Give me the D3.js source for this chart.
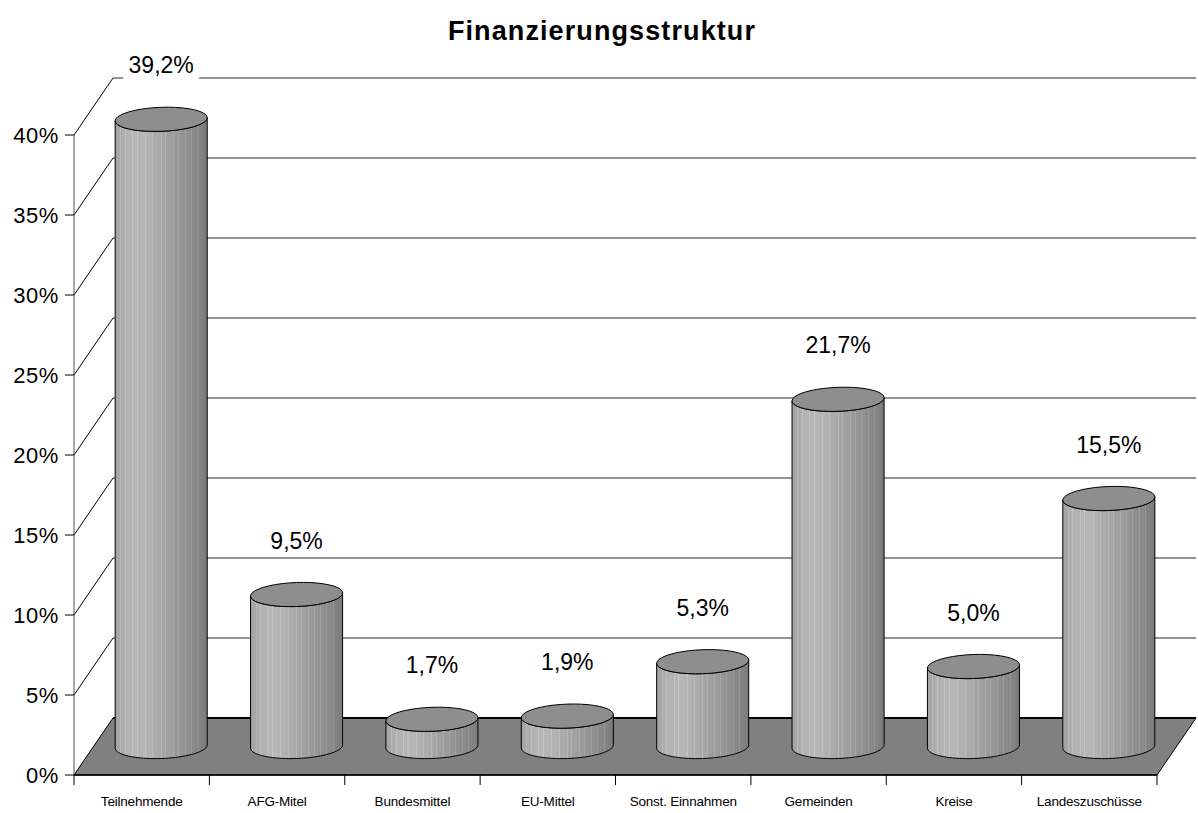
<!DOCTYPE html>
<html>
<head>
<meta charset="utf-8">
<script src="https://cdn.jsdelivr.net/npm/d3@7"></script>
<style>
  body { margin: 0; background: #fff; }
  text { font-family: Arial, "Liberation Sans", sans-serif; fill: #000; }
</style>
</head>
<body>
<div id="chart"></div>
<script>
// chart data
const categories = ['Teilnehmende', 'AFG-Mitel', 'Bundesmittel', 'EU-Mittel', 'Sonst. Einnahmen', 'Gemeinden', 'Kreise', 'Landeszuschüsse'];
const values = [39.2, 9.5, 1.7, 1.9, 5.3, 21.7, 5.0, 15.5];
const yTicks = [0, 5, 10, 15, 20, 25, 30, 35, 40];
const title = 'Finanzierungsstruktur';

const totalWidth = 1198, totalHeight = 813;
const front = {left: 74, right: 1157, bottom: 775, top: 135};
const depth = {dx: 39, dy: -57};

const svg = d3.select('#chart').append('svg')
  .attr('width', totalWidth)
  .attr('height', totalHeight);

const x = d3.scaleBand().domain(categories).range([front.left, front.right]).padding(0);
const y = d3.scaleLinear().domain([0, 40]).range([front.bottom, front.top]);
const fmt = v => v.toFixed(1).replace('.', ',') + '%';

// gradient for the cylinder sides (base shading + thin light stripes)
const defs = svg.append('defs');
const grad = defs.append('linearGradient').attr('id', 'cyl').attr('x1', 0).attr('x2', 1).attr('y1', 0).attr('y2', 0);
const shade = d3.scaleLinear()
  .domain([0, 0.12, 0.28, 0.45, 0.62, 0.8, 0.93, 1])
  .range(['#a2a2a2', '#b2b2b2', '#b8b8b8', '#acacac', '#9e9e9e', '#8e8e8e', '#848484', '#7a7a7a']);
const stripes = [0.06, 0.11, 0.19, 0.24, 0.33, 0.41, 0.5, 0.55, 0.63, 0.69, 0.76, 0.83, 0.9];
let stops = [[0, shade(0)]];
stripes.forEach(s => {
  const c = d3.color(shade(s));
  const light = d3.rgb(c.r + 14, c.g + 14, c.b + 14).formatHex();
  stops.push([s - 0.006, shade(s - 0.006)], [s - 0.005, light], [s + 0.005, light], [s + 0.006, shade(s + 0.006)]);
});
stops.push([1, shade(1)]);
stops.forEach(s => grad.append('stop').attr('offset', s[0]).attr('stop-color', s[1]));

// title
svg.append('text')
  .attr('x', 602).attr('y', 40)
  .attr('text-anchor', 'middle')
  .style('font-size', '27px')
  .style('font-weight', 'bold')
  .style('letter-spacing', '1.1px')
  .text(title);

// back wall gridlines + left wall diagonals
const walls = svg.append('g').attr('class', 'walls');
walls.selectAll('line.grid')
  .data(yTicks.filter(d => d > 0))
  .enter().append('line')
  .attr('class', 'grid')
  .attr('x1', front.left + depth.dx).attr('x2', front.right + depth.dx)
  .attr('y1', d => y(d) + depth.dy).attr('y2', d => y(d) + depth.dy)
  .style('stroke', '#2a2a2a').style('stroke-width', 1.1);
walls.selectAll('line.diag')
  .data(yTicks.filter(d => d > 0))
  .enter().append('line')
  .attr('class', 'diag')
  .attr('x1', front.left).attr('x2', front.left + depth.dx)
  .attr('y1', d => y(d)).attr('y2', d => y(d) + depth.dy)
  .style('stroke', '#000').style('stroke-width', 1);

// floor
const floorPts = [
  [front.left, y(0)],
  [front.left + depth.dx, y(0) + depth.dy],
  [front.right + depth.dx, y(0) + depth.dy],
  [front.right, y(0)]
];
svg.append('polygon')
  .attr('points', floorPts.map(p => p.join(',')).join(' '))
  .style('fill', '#808080')
  .style('stroke', '#000')
  .style('stroke-width', 1);
svg.append('line')
  .attr('x1', front.left + depth.dx).attr('x2', front.right + depth.dx)
  .attr('y1', y(0) + depth.dy).attr('y2', y(0) + depth.dy)
  .style('stroke', '#000').style('stroke-width', 2);

// value axis (front left)
const yAxis = svg.append('g').attr('class', 'y-axis');
yAxis.append('line')
  .attr('x1', front.left).attr('x2', front.left)
  .attr('y1', y(0)).attr('y2', y(40))
  .style('stroke', '#555');
yAxis.selectAll('line.tick')
  .data(yTicks).enter().append('line')
  .attr('class', 'tick')
  .attr('x1', front.left - 9).attr('x2', front.left)
  .attr('y1', d => y(d)).attr('y2', d => y(d))
  .style('stroke', '#000');
yAxis.selectAll('text')
  .data(yTicks).enter().append('text')
  .attr('x', front.left - 15)
  .attr('y', d => y(d) + 8)
  .attr('text-anchor', 'end')
  .style('font-size', '22px')
  .style('letter-spacing', '0.6px')
  .text(d => d + '%');

// category axis
const xAxis = svg.append('g').attr('class', 'x-axis');
xAxis.append('line')
  .attr('x1', front.left).attr('x2', front.right)
  .attr('y1', y(0)).attr('y2', y(0))
  .style('stroke', '#000').style('stroke-width', 1.5);
const bounds = categories.map(c => x(c)).concat([front.right]);
xAxis.selectAll('line.tick')
  .data(bounds).enter().append('line')
  .attr('class', 'tick')
  .attr('x1', d => d).attr('x2', d => d)
  .attr('y1', y(0)).attr('y2', y(0) + 10)
  .style('stroke', '#000');
xAxis.selectAll('text')
  .data(categories).enter().append('text')
  .attr('x', d => x(d) + x.bandwidth() / 2)
  .attr('y', y(0) + 31)
  .attr('text-anchor', 'middle')
  .style('font-size', '13.5px')
  .style('letter-spacing', '-0.2px')
  .text(d => d);

// cylinders, placed at half depth
const rx = x.bandwidth() * 0.34, ry = 12, tilt = 0.035;
const midDx = depth.dx / 2, midDy = depth.dy / 2;
const line = d3.line();
const ellipsePts = (cx, cy, t0, t1) => d3.range(0, 41).map(i => {
  const t = t0 + (t1 - t0) * i / 40;
  return [cx + rx * Math.cos(t), cy + ry * Math.sin(t) - tilt * rx * Math.cos(t)];
});

const bars = svg.selectAll('g.cyl')
  .data(categories.map((c, i) => ({cat: c, value: values[i]})))
  .enter().append('g')
  .attr('class', 'cyl');

bars.append('path')
  .attr('d', d => {
    const cx = x(d.cat) + x.bandwidth() / 2 + midDx;
    const yb = y(0) + midDy, yt = y(d.value) + midDy;
    const pts = [[cx - rx, yt + tilt * rx]]
      .concat(ellipsePts(cx, yb, Math.PI, 0))
      .concat(ellipsePts(cx, yt, 0, Math.PI));
    return line(pts) + 'Z';
  })
  .style('fill', 'url(#cyl)')
  .style('stroke', '#000')
  .style('stroke-width', 1);

bars.append('path')
  .attr('d', d => {
    const cx = x(d.cat) + x.bandwidth() / 2 + midDx;
    return line(ellipsePts(cx, y(d.value) + midDy, 0, 2 * Math.PI)) + 'Z';
  })
  .style('fill', '#8e8e8e')
  .style('stroke', '#000')
  .style('stroke-width', 1);

// data labels with white boxes
const labels = bars.append('g')
  .attr('transform', d => 'translate(' + [x(d.cat) + x.bandwidth() / 2 + midDx, y(d.value) + midDy - 54] + ')');
labels.append('rect')
  .attr('x', -38).attr('y', -14).attr('width', 76).attr('height', 28)
  .style('fill', '#fff');
labels.append('text')
  .attr('y', 8)
  .attr('text-anchor', 'middle')
  .style('font-size', '23px')
  .text(d => fmt(d.value));
</script>
</body>
</html>
